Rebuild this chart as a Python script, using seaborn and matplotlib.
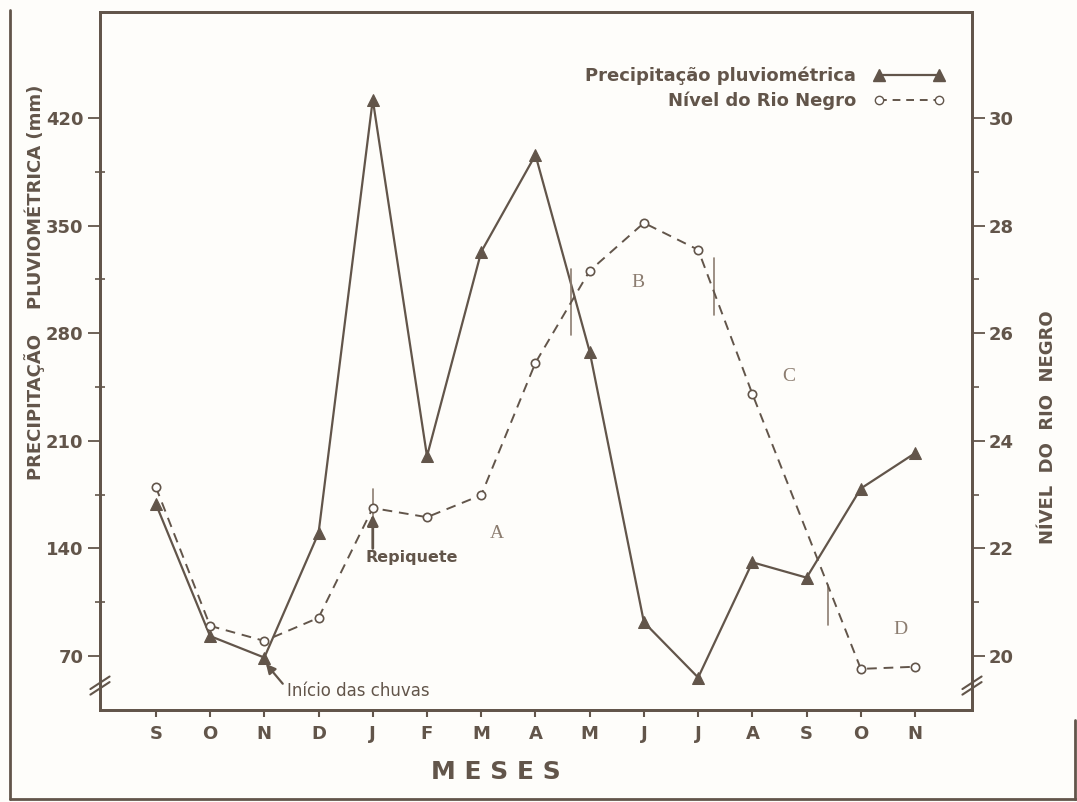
import numpy as np
import pandas as pd
import matplotlib
matplotlib.use("Agg")
import matplotlib.pyplot as plt
from matplotlib.lines import Line2D
import seaborn as sns

# ---------------- data ----------------
months = ['S', 'O', 'N', 'D', 'J', 'F', 'M', 'A', 'M', 'J', 'J', 'A', 'S', 'O', 'N']
precip = [169, 83, 69, 150, 432, 200, 333, 396, 268, 92, 56, 131, 121, 179, 202]
level = [23.14, 20.56, 20.28, 20.71, 22.75, 22.58, 22.99, 25.45, 27.16, 28.05,
         27.55, 24.87, np.nan, 19.76, 19.80]
precip_ticks = [70, 140, 210, 280, 350, 420]
level_ticks = [20, 22, 24, 26, 28, 30]
legend_labels = ['Precipitação pluviométrica', 'Nível do Rio Negro']
phase_labels = ['A', 'B', 'C', 'D']
phase_x = [6.29, 8.89, 11.68, 13.73]
phase_y = [150, 313, 252, 87]
mark_x = [4.0, 7.66, 10.3, 12.4]
mark_y0 = [152, 279, 292, 90]
mark_y1 = [179, 322, 329, 116]

df = pd.DataFrame({'pos': np.arange(len(months)), 'precip': precip, 'level': level})

INK = '#62554a'
LIGHT = '#8c7d70'
BG = '#fefdfa'

sns.set_style('ticks')
plt.rcParams['font.family'] = ['DejaVu Sans']

fig = plt.figure(figsize=(10.77, 8.02), dpi=100, facecolor=BG)
ax = fig.add_axes([100/1077, 1-710/802, 872/1077, 698/802])
ax.set_facecolor(BG)
ax2 = ax.twinx()

sns.lineplot(data=df, x='pos', y='precip', ax=ax, color=INK, linewidth=1.6,
             marker='^', markersize=8, markeredgecolor=INK, markerfacecolor=INK)
sns.lineplot(data=df, x='pos', y='level', ax=ax2, color=INK, linewidth=1.4,
             linestyle=(0, (5, 3.5)), marker='o', markersize=6,
             markeredgecolor=INK, markerfacecolor='white', markeredgewidth=1.2)

# limits
ax.set_xlim(-1.03, 15.05)
ax.set_ylim(34.9, 489.0)
ax2.set_ylim(18.996, 31.97)

ax.set_xticks(range(len(months)))
ax.set_xticklabels(months)
ax.set_yticks(precip_ticks)
ax.set_yticklabels([str(t) for t in precip_ticks])
ax.set_yticks([105, 175, 245, 315, 385], minor=True)
ax2.set_yticks(level_ticks)
ax2.set_yticklabels([str(t) for t in level_ticks])
ax2.set_yticks([21, 23, 25, 27, 29], minor=True)

ax.set_xlabel('')
ax.set_ylabel('')
ax2.set_ylabel('')

for a in (ax, ax2):
    for s in a.spines.values():
        s.set_color(INK)
        s.set_linewidth(2.0)
        s.set_visible(True)

ax.tick_params(axis='x', direction='out', length=5, width=1.5, colors=INK,
               labelsize=13, pad=6)
ax.tick_params(axis='y', which='major', direction='out', length=9, width=1.3,
               colors=INK, labelsize=13, pad=3, right=False)
ax.tick_params(axis='y', which='minor', direction='inout', length=7, width=1.2,
               colors=INK, right=False)
ax2.tick_params(axis='y', which='major', direction='out', length=9, width=1.3,
                colors=INK, labelsize=13, pad=3)
ax2.tick_params(axis='y', which='minor', direction='out', length=5, width=1.2,
                colors=INK)
for lab in ax.get_xticklabels() + ax.get_yticklabels() + ax2.get_yticklabels():
    lab.set_fontweight('bold')
    lab.set_color(INK)

# axis break marks
for xa in (0.0, 1.0):
    for dy in (0.0, 0.008):
        ax.plot([xa - 0.011, xa + 0.011], [0.022 + dy, 0.040 + dy],
                transform=ax.transAxes, color=INK, lw=1.5, clip_on=False)

# axis labels
fig.text(35/1077, 1-282/802, 'PRECIPITAÇÃO    PLUVIOMÉTRICA (mm)', rotation=90,
         ha='center', va='center', fontsize=13, fontweight='bold', color=INK)
fig.text(1048/1077, 1-427/802, 'NÍVEL  DO  RIO  NEGRO', rotation=90,
         ha='center', va='center', fontsize=13, fontweight='bold', color=INK)
fig.text(496/1077, 1-772/802, 'M E S E S', ha='center', va='center',
         fontsize=18, fontweight='bold', color=INK)

# legend
handles = [Line2D([], [], color=INK, lw=1.6, marker='^', markersize=9,
                  markerfacecolor=INK, markeredgecolor=INK),
           Line2D([], [], color=INK, lw=1.4, linestyle=(0, (4, 3)), marker='o',
                  markersize=6, markerfacecolor='white', markeredgecolor=INK)]
leg = ax.legend(handles, legend_labels, loc='upper right',
                bbox_to_anchor=(0.987, 0.945), frameon=False, markerfirst=False,
                numpoints=2, handlelength=3.9, handletextpad=1.0,
                labelspacing=0.35, prop={'weight': 'bold', 'size': 13})
for t in leg.get_texts():
    t.set_color(INK)

# phase letters
for lab, px, py in zip(phase_labels, phase_x, phase_y):
    ax.text(px, py, lab, ha='center', va='center', fontsize=14,
            family='Liberation Serif', color=LIGHT)

# short vertical marks
for mx, y0, y1 in zip(mark_x, mark_y0, mark_y1):
    ax.plot([mx, mx], [y0, y1], color=LIGHT, lw=1.2)

# annotations
ax.annotate('', xy=(4.0, 162), xytext=(4.0, 140),
            arrowprops=dict(arrowstyle='-|>', color=INK, lw=2.0,
                            mutation_scale=16, shrinkA=0, shrinkB=0))
ax.text(4.72, 134, 'Repiquete', ha='center', va='center',
        fontsize=11.5, fontweight='bold', color=INK)
ax.annotate('', xy=(2.03, 65), xytext=(2.34, 52),
            arrowprops=dict(arrowstyle='-|>', color=INK, lw=1.6,
                            mutation_scale=14, shrinkA=0, shrinkB=0))
ax.text(2.42, 47.5, 'Início das chuvas', ha='left', va='center',
        fontsize=12, color=INK)

# outer page border
fig.add_artist(Line2D([10/1077, 10/1077], [1-10/802, 1-799/802],
                      transform=fig.transFigure, color=INK, lw=2))
fig.add_artist(Line2D([10/1077, 1.0], [1-799/802, 1-799/802],
                      transform=fig.transFigure, color=INK, lw=2))
fig.add_artist(Line2D([1075/1077, 1075/1077], [1-720/802, 1-799/802],
                      transform=fig.transFigure, color=INK, lw=2))

fig.savefig('out.png', dpi=100, facecolor=BG)
